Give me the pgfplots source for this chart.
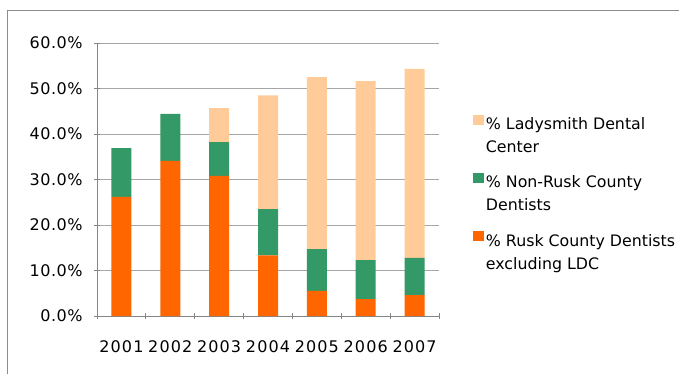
\documentclass[border=0pt]{standalone}
\usepackage{fontspec}
\setmainfont{DejaVu Sans}
\newfontfamily\tickfam[LetterSpace=7]{DejaVu Sans}
\newfontfamily\ytickfam[LetterSpace=3]{DejaVu Sans}
\usepackage{pgfplots}
\pgfplotsset{compat=1.18}
\definecolor{cOrange}{HTML}{FF6600}
\definecolor{cGreen}{HTML}{339966}
\definecolor{cPeach}{HTML}{FFCC99}
\definecolor{gridc}{HTML}{A6A6A6}
\definecolor{framec}{HTML}{8C8C8C}
\newcommand{\chartfont}{\fontsize{15.8bp}{23bp}\selectfont}
\newcommand{\tickfont}{\tickfam\fontsize{16bp}{20bp}\selectfont}
\newcommand{\ytickfont}{\ytickfam\fontsize{16bp}{20bp}\selectfont}
\begin{document}
\begin{tikzpicture}
\path[use as bounding box] (0,0) rectangle (679bp,-374bp);
\draw[framec, line width=1bp] (7bp,-376bp) -- (7bp,-10bp) -- (681bp,-10bp);
\begin{axis}[
  at={(97bp,-316bp)}, anchor=south west,
  scale only axis, width=342bp, height=273bp,
  ybar stacked, bar width=20bp,
  xmin=-0.5, xmax=6.5, ymin=0, ymax=60,
  xtick={0,...,6}, xticklabels={2001,2002,2003,2004,2005,2006,2007},
  minor xtick={-0.5,0.5,...,6.5},
  major x tick style={draw=none},
  minor tick length=6bp, major tick length=6bp,
  tick align=outside,
  ytick={0,10,...,60},
  yticklabel={\pgfmathprintnumber[fixed,fixed zerofill,precision=1]{\tick}\%},
  /pgf/number format/assume math mode=true,
  ymajorgrids, grid style={gridc, line width=0.8bp},
  axis x line=bottom, axis y line=left,
  axis line style={-, gridc!80!black, line width=0.8bp},
  tick style={gridc!80!black, line width=0.8bp},
  tick label style={text=black},
  xticklabel style={font=\tickfont, yshift=-18bp},
  yticklabel style={font=\ytickfont, xshift=-8bp},
  clip=false,
  reverse legend,
  legend style={at={(1.09,0.745)}, anchor=north west, draw=none, fill=none,
    font=\chartfont, row sep=17bp,
    cells={anchor=west, align=left}},
  legend image code/.code={\fill[#1] (0bp,11bp) rectangle (11bp,21bp);},
]
\addplot[fill=cOrange, draw=none] coordinates {(0,26.2) (1,34.1) (2,30.8) (3,13.3) (4,5.5) (5,3.7) (6,4.6)};
\addplot[fill=cGreen, draw=none] coordinates {(0,10.7) (1,10.3) (2,7.4) (3,10.2) (4,9.2) (5,8.6) (6,8.2)};
\addplot[fill=cPeach, draw=none] coordinates {(0,0) (1,0) (2,7.5) (3,25.0) (4,37.8) (5,39.3) (6,41.5)};
\legend{{\% Rusk County Dentists\\excluding LDC},{\% Non-Rusk County\\Dentists},{\% Ladysmith Dental\\Center}}
\end{axis}
\end{tikzpicture}
\end{document}
